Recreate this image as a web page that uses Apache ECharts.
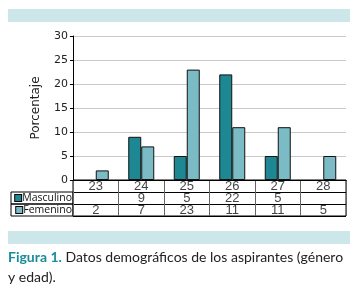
<!DOCTYPE html>
<html>
<head>
<meta charset="utf-8">
<script src="https://cdn.jsdelivr.net/npm/echarts@6/dist/echarts.min.js"></script>
<style>
html, body { margin: 0; padding: 0; background: #fff; }
#chart { width: 356px; height: 298px; }
</style>
</head>
<body>
<div id="chart"></div>
<script>
// datos de la figura
var edades = ['23', '24', '25', '26', '27', '28'];
var masculino = [null, 9, 5, 22, 5, null];
var femenino = [2, 7, 23, 11, 11, 5];
var yTicks = [0, 5, 10, 15, 20, 25, 30];
var filasTabla = ['Edad', 'Masculino', 'Femenino'];

var colorMasc = '#1d8793';
var colorFem = '#7bbbc5';
var colorBanda = '#cce6ea';

// celdas de la tabla (texto de cada celda)
var celdas = [];
edades.forEach(function(e, i) {
	celdas.push([e, 'Edad', e]);
	if (masculino[i] != null) celdas.push([e, 'Masculino', masculino[i]]);
	if (femenino[i] != null) celdas.push([e, 'Femenino', femenino[i]]);
});

var chart = echarts.init(document.getElementById('chart'));
var option = {
	animation: false,
	grid: [{
		left: 73, right: 10, top: 36, height: 144
	}, {
		left: 73, right: 10, top: 180, height: 36,
		show: true, borderColor: '#000', borderWidth: 1
	}],
	xAxis: [{
		type: 'category',
		data: edades,
		axisLine: { lineStyle: { color: '#000', width: 1 } },
		axisTick: { show: false },
		axisLabel: { show: false }
	}, {
		type: 'category',
		gridIndex: 1,
		data: edades,
		axisLine: { show: false },
		axisTick: { show: false },
		axisLabel: { show: false },
		splitLine: { show: true, interval: 0, lineStyle: { color: '#666' } }
	}],
	yAxis: [{
		type: 'value',
		min: yTicks[0],
		max: yTicks[yTicks.length - 1],
		interval: 5,
		name: 'Porcentaje',
		nameLocation: 'middle',
		nameGap: 31,
		nameTextStyle: { fontFamily: 'DejaVu Sans', fontSize: 12, color: '#222' },
		axisLine: { show: true, lineStyle: { color: '#000' } },
		axisTick: { show: true, length: 3, lineStyle: { color: '#000' } },
		axisLabel: { fontFamily: 'DejaVu Sans', fontSize: 11, color: '#222', margin: 5 },
		splitLine: { lineStyle: { color: '#c9c9c9' } }
	}, {
		type: 'category',
		gridIndex: 1,
		inverse: true,
		data: filasTabla,
		axisLine: { show: false },
		axisTick: { show: false },
		splitLine: { show: true, interval: 0, lineStyle: { color: '#000' } },
		axisLabel: {
			interval: 0,
			margin: 1,
			formatter: function(v) {
				if (v == 'Masculino') return '{m|}{t|Masculino}';
				if (v == 'Femenino') return '{f|}{t|Femenino}';
				return '';
			},
			rich: {
				m: { width: 6, height: 6, backgroundColor: colorMasc, borderColor: '#000', borderWidth: 1 },
				f: { width: 6, height: 6, backgroundColor: colorFem, borderColor: '#000', borderWidth: 1 },
				t: { fontFamily: 'Open Sans', fontSize: 10.5, color: '#111', padding: [0, 0, 0, 1] }
			}
		}
	}],
	series: [{
		name: 'Masculino',
		type: 'bar',
		data: masculino,
		barWidth: 13,
		barGap: '0%',
		itemStyle: { color: colorMasc, borderColor: '#111', borderWidth: 1 }
	}, {
		name: 'Femenino',
		type: 'bar',
		data: femenino,
		barWidth: 13,
		itemStyle: { color: colorFem, borderColor: '#111', borderWidth: 1 }
	}, {
		type: 'scatter',
		xAxisIndex: 1,
		yAxisIndex: 1,
		symbolSize: 0,
		silent: true,
		data: celdas,
		label: {
			show: true,
			position: 'inside',
			fontFamily: 'Liberation Sans',
			fontSize: 13,
			color: '#111',
			formatter: function(p) { return p.value[2]; }
		}
	}],
	graphic: [{
		type: 'rect',
		shape: { x: 8, y: 9, width: 342, height: 13 },
		style: { fill: colorBanda }
	}, {
		type: 'rect',
		shape: { x: 8, y: 231, width: 342, height: 13 },
		style: { fill: colorBanda }
	}, {
		type: 'rect',
		shape: { x: 11, y: 192, width: 62, height: 12 },
		style: { fill: 'none', stroke: '#000', lineWidth: 1 }
	}, {
		type: 'rect',
		shape: { x: 11, y: 204, width: 62, height: 12 },
		style: { fill: 'none', stroke: '#000', lineWidth: 1 }
	}, {
		type: 'text',
		x: 8,
		y: 247,
		style: {
			text: '{b|Figura 1.} Datos demográficos de los aspirantes (género\ny edad).',
			fontFamily: 'Lato',
			fontSize: 14,
			lineHeight: 20,
			fill: '#222',
			rich: {
				b: { fontFamily: 'Lato', fontSize: 14, fontWeight: 'bold', fill: '#1a8b9b', lineHeight: 20 }
			}
		}
	}]
};
chart.setOption(option);
</script>
</body>
</html>
